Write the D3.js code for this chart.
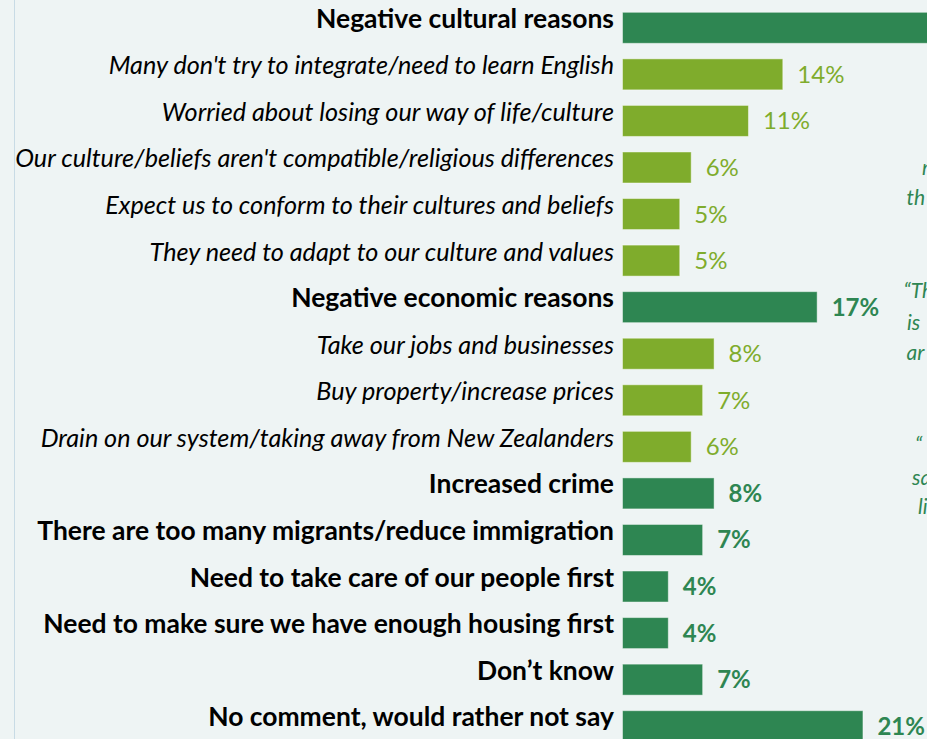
<!DOCTYPE html>
<html>
<head>
<meta charset="utf-8">
<script src="https://cdn.jsdelivr.net/npm/d3@7"></script>
<style>
  html, body { margin: 0; padding: 0; background: #eef4f4; overflow: hidden; }
  svg { display: block; }
</style>
</head>
<body>
<svg id="chart" width="927" height="739"></svg>
<script>
// ---- data ----
const categories = [
  "Negative cultural reasons",
  "Many don't try to integrate/need to learn English",
  "Worried about losing our way of life/culture",
  "Our culture/beliefs aren't compatible/religious differences",
  "Expect us to conform to their cultures and beliefs",
  "They need to adapt to our culture and values",
  "Negative economic reasons",
  "Take our jobs and businesses",
  "Buy property/increase prices",
  "Drain on our system/taking away from New Zealanders",
  "Increased crime",
  "There are too many migrants/reduce immigration",
  "Need to take care of our people first",
  "Need to make sure we have enough housing first",
  "Don\u2019t know",
  "No comment, would rather not say"
];
const values = [31, 14, 11, 6, 5, 5, 17, 8, 7, 6, 8, 7, 4, 4, 7, 21];
const isSub = [false, true, true, true, true, true, false, true, true, true, false, false, false, false, false, false];
const quoteFragments = ["m", "th", "\u201CTh", "is", "ar", "\u201C", "sa", "li"];

// ---- drawing ----
const W = 927, H = 739;
const svg = d3.select("#chart");
const dark = "#2e8652", light = "#7fac2c";
const font = "Lato, 'Open Sans', sans-serif";

svg.append("rect").attr("width", W).attr("height", H).attr("fill", "#eef4f4");
svg.append("line").attr("x1", 14.5).attr("x2", 14.5).attr("y1", 0).attr("y2", H)
  .attr("stroke", "#c8dbe5").attr("stroke-width", 1);

const x0 = 622.5;
const x = d3.scaleLinear().domain([0, 100]).range([x0, x0 + 1145]);
const step = 46.56, p = 0.334;
const y = d3.scaleBand().domain(categories)
  .range([12.3 - step * p / 2, 12.3 - step * p / 2 + step * categories.length])
  .paddingInner(p).paddingOuter(p / 2);

const rows = categories.map((c, i) => ({ c, v: values[i], sub: isSub[i] }));

svg.append("g").selectAll("rect").data(rows).join("rect")
  .attr("x", x(0))
  .attr("y", d => y(d.c))
  .attr("width", d => x(d.v) - x(0))
  .attr("height", y.bandwidth())
  .attr("fill", d => d.sub ? light : dark)
  .attr("stroke", "rgba(255,255,255,0.45)")
  .attr("stroke-width", 1);

// category labels
const labG = svg.append("g");
const labels = labG.selectAll("text").data(rows).join("text")
  .attr("x", 614)
  .attr("y", d => y(d.c) + y.bandwidth() / 2)
  .attr("text-anchor", "end")
  .attr("font-family", font)
  .attr("font-style", d => d.sub ? "italic" : "normal")
  .attr("font-weight", d => d.sub ? 400 : 700)
  .attr("font-size", 22)
  .attr("fill", "#000")
  .text(d => d.c);

// fit font sizes to reference widths
function fit(sel, refText, target) {
  const n = sel.filter(d => d.c === refText).node();
  const w = n.getComputedTextLength();
  const fs = 22 * target / w;
  sel.attr("font-size", fs);
}
fit(labels.filter(d => d.sub), categories[3], 599);
fit(labels.filter(d => !d.sub), categories[11], 577);

// value labels
svg.append("g").selectAll("text").data(rows).join("text")
  .attr("x", d => x(d.v) + 14.5)
  .attr("y", d => y(d.c) + y.bandwidth() / 2 + 8.5)
  .attr("font-family", font)
  .attr("font-weight", d => d.sub ? 400 : 700)
  .attr("font-size", 24)
  .attr("fill", d => d.sub ? light : dark)
  .text(d => d.v + "%");

// cut-off quote annotations on the right edge
const qx = [922, 906.5, 903.5, 907, 906.5, 915, 912, 918];
const qy = [175, 205, 298, 330, 360, 452, 485, 514];
svg.append("g").selectAll("text").data(quoteFragments).join("text")
  .attr("x", (d, i) => qx[i])
  .attr("y", (d, i) => qy[i])
  .attr("font-family", font)
  .attr("font-style", "italic")
  .attr("font-size", 21)
  .attr("fill", dark)
  .text(d => d);
</script>
</body>
</html>
